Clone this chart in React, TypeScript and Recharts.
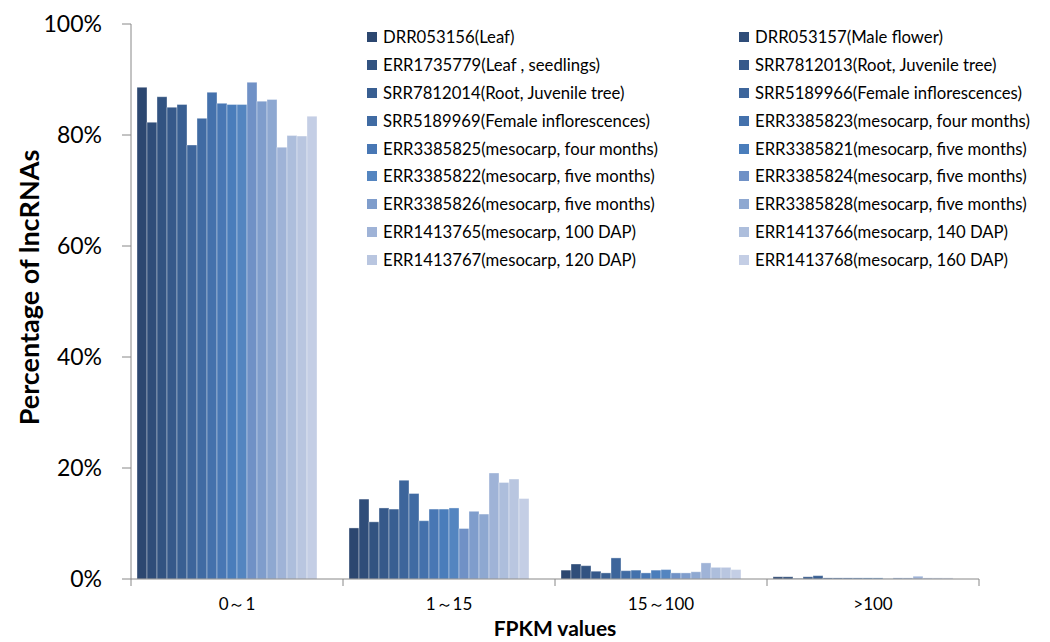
import { BarChart, Bar, XAxis, YAxis, Legend } from 'recharts';

const categories = ['0～1', '1～15', '15～100', '>100'];

const seriesNames = [
  'DRR053156(Leaf)',
  'DRR053157(Male flower)',
  'ERR1735779(Leaf , seedlings)',
  'SRR7812013(Root, Juvenile tree)',
  'SRR7812014(Root, Juvenile tree)',
  'SRR5189966(Female inflorescences)',
  'SRR5189969(Female inflorescences)',
  'ERR3385823(mesocarp, four months)',
  'ERR3385825(mesocarp, four months)',
  'ERR3385821(mesocarp, five months)',
  'ERR3385822(mesocarp, five months)',
  'ERR3385824(mesocarp, five months)',
  'ERR3385826(mesocarp, five months)',
  'ERR3385828(mesocarp, five months)',
  'ERR1413765(mesocarp, 100 DAP)',
  'ERR1413766(mesocarp, 140 DAP)',
  'ERR1413767(mesocarp, 120 DAP)',
  'ERR1413768(mesocarp, 160 DAP)',
];

// share of lncRNAs (%) per sample, one array per FPKM bin
const share0to1 = [88.6, 82.3, 86.9, 85.0, 85.5, 78.2, 83.0, 87.7, 85.7, 85.5, 85.5, 89.5, 86.1, 86.4, 77.8, 79.9, 79.8, 83.4];
const share1to15 = [9.2, 14.4, 10.3, 12.8, 12.6, 17.8, 15.4, 10.5, 12.6, 12.6, 12.8, 9.1, 12.2, 11.7, 19.1, 17.4, 18.0, 14.5];
const share15to100 = [1.6, 2.7, 2.4, 1.4, 1.1, 3.8, 1.5, 1.6, 1.1, 1.6, 1.7, 1.1, 1.1, 1.3, 2.9, 2.1, 2.1, 1.7];
const shareOver100 = [0.4, 0.4, 0.1, 0.4, 0.6, 0.2, 0.2, 0.2, 0.2, 0.2, 0.2, 0.05, 0.2, 0.2, 0.5, 0.2, 0.2, 0.2];

const yTicks = [0, 20, 40, 60, 80, 100];

const colors = [
  '#2C4770', '#2F4D79', '#325381', '#36598A', '#395F92', '#3D659B',
  '#406BA3', '#4471AC', '#4877B4', '#4A7DBB', '#5485C0', '#7091C6',
  '#7F9DCC', '#8EA8D1', '#9FB3D7', '#ADBEDC', '#B9C6E0', '#C4CEE5',
];

const bins = [share0to1, share1to15, share15to100, shareOver100];

const chartData = categories.map((name, c) => {
  const row: Record<string, string | number> = { name };
  seriesNames.forEach((_, s) => {
    row[`s${s}`] = bins[c][s];
  });
  return row;
});

const FONT = 'Lato, "Noto Sans", sans-serif';
const AXIS = '#888888';

const CategoryTick = (props: any) => {
  const { x, y, payload, index } = props;
  const half = payload?.offset || 106;
  const base = y - 7;
  return (
    <g>
      <line x1={x - half} x2={x - half} y1={base} y2={base + 7} stroke={AXIS} />
      {index === categories.length - 1 && (
        <line x1={x + half} x2={x + half} y1={base} y2={base + 7} stroke={AXIS} />
      )}
      <text x={x} y={base + 31} textAnchor="middle" fontFamily={FONT} fontSize={17} fill="#000">
        {payload.value}
      </text>
    </g>
  );
};

// rotated y title, sits a bit above the plot's middle like the original
const YTitle = (props: any) => {
  const { viewBox } = props;
  const cx = viewBox.x + 28;
  const cy = viewBox.y + viewBox.height / 2 - 14;
  return (
    <text
      x={cx}
      y={cy}
      transform={`rotate(-90 ${cx} ${cy})`}
      textAnchor="middle"
      dominantBaseline="central"
      fontFamily={FONT}
      fontSize={27}
      fontWeight={700}
      fill="#000"
    >
      Percentage of lncRNAs
    </text>
  );
};

const LegendGrid = () => (
  <div
    style={{
      display: 'grid',
      gridTemplateColumns: '372px 310px',
      fontFamily: FONT,
      fontSize: 16.7,
      color: '#000',
    }}
  >
    {seriesNames.map((name, i) => (
      <div key={name} style={{ height: 27.9, display: 'flex', alignItems: 'center', whiteSpace: 'nowrap' }}>
        <span style={{ width: 10, height: 10, background: colors[i], marginRight: 6, flex: 'none' }} />
        {name}
      </div>
    ))}
  </div>
);

export default function App() {
  return (
    <div style={{ position: 'absolute', left: 0, top: 0, width: 1050, height: 642, background: '#fff' }}>
      <BarChart
        width={1050}
        height={642}
        data={chartData}
        margin={{ top: 24, right: 71, bottom: 0, left: 0 }}
        barSize={10}
        barGap={0}
      >
        <XAxis
          dataKey="name"
          height={63}
          axisLine={{ stroke: AXIS }}
          tickLine={false}
          tickSize={7}
          tickMargin={0}
          tick={<CategoryTick />}
          interval={0}
          label={{
            value: 'FPKM values',
            position: 'insideBottom',
            offset: 6,
            style: { fontFamily: FONT, fontSize: 21, fontWeight: 700, fill: '#000' },
          }}
        />
        <YAxis
          width={131}
          domain={[0, 100]}
          ticks={yTicks}
          tickFormatter={(v) => `${v}%`}
          axisLine={{ stroke: AXIS }}
          tickLine={{ stroke: AXIS }}
          tickSize={9}
          tickMargin={20}
          tick={{ fontFamily: FONT, fontSize: 23, fill: '#000' }}
          label={<YTitle />}
        />
        <Legend
          layout="vertical"
          align="center"
          verticalAlign="middle"
          content={<LegendGrid />}
          wrapperStyle={{ position: 'absolute', top: 23, left: 367, width: 690, height: 'auto' }}
        />
        {seriesNames.map((name, s) => (
          <Bar
            key={name}
            dataKey={`s${s}`}
            name={name}
            fill={colors[s]}
            stroke="rgba(255,255,255,0.45)"
            strokeWidth={0.8}
            isAnimationActive={false}
          />
        ))}
        {/* two empty slots, the original cluster keeps room for them on the right */}
        <Bar dataKey="pad1" legendType="none" isAnimationActive={false} />
        <Bar dataKey="pad2" legendType="none" isAnimationActive={false} />
      </BarChart>
    </div>
  );
}
